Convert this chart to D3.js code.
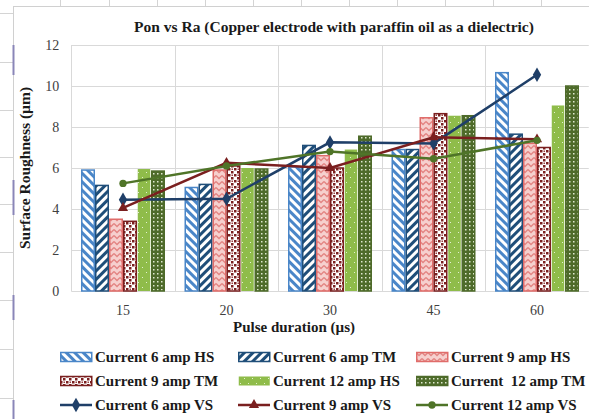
<!DOCTYPE html>
<html>
<head>
<meta charset="utf-8">
<script src="https://cdn.jsdelivr.net/npm/d3@7"></script>
<style>
  body { margin: 0; background: #ffffff; }
  svg text { font-family: 'Liberation Serif', 'Times New Roman', serif; }
</style>
</head>
<body>
<svg id="chart" width="589" height="419"></svg>
<script>
// chart data
let categories = ["15", "20", "30", "45", "60"];
let barSeries = ["Current 6 amp HS", "Current 6 amp TM", "Current 9 amp HS",
                 "Current 9 amp TM", "Current 12 amp HS", "Current  12 amp TM"];
let hs6 = [5.9, 5.05, 6.05, 6.9, 10.65];
let tm6 = [5.15, 5.2, 7.1, 6.9, 7.65];
let hs9 = [3.5, 5.9, 6.6, 8.45, 7.2];
let tm9 = [3.4, 6.1, 6.0, 8.65, 7.0];
let hs12 = [5.95, 6.0, 6.9, 8.55, 9.05];
let tm12 = [5.85, 5.95, 7.55, 8.55, 10.0];
let lineSeries = ["Current 6 amp VS", "Current 9 amp VS", "Current 12 amp VS"];
let vs6 = [4.45, 4.5, 7.25, 7.2, 10.55];
let vs9 = [4.05, 6.25, 6.0, 7.5, 7.4];
let vs12 = [5.25, 6.1, 6.8, 6.45, 7.35];
let yTicks = [0, 2, 4, 6, 8, 10, 12];

let barValues = [hs6, tm6, hs9, tm9, hs12, tm12];
let lineValues = [vs6, vs9, vs12];

let serif = "'Liberation Serif', 'Times New Roman', serif";

// styles for each series
let barStyle = [
    { fill: "url(#p6hs)", stroke: "#4a86c8" },
    { fill: "url(#p6tm)", stroke: "#1f4e79" },
    { fill: "url(#p9hs)", stroke: "#e06c6a" },
    { fill: "url(#p9tm)", stroke: "#7a1f1f" },
    { fill: "url(#p12hs)", stroke: "none" },
    { fill: "url(#p12tm)", stroke: "#4e6b2a" }
];
let lineStyle = [
    { color: "#1f3f68", marker: d3.symbolDiamond, size: 60 },
    { color: "#7a1f1f", marker: d3.symbolTriangle, size: 45 },
    { color: "#4f7428", marker: d3.symbolCircle, size: 42 }
];

let svg = d3.select("#chart");

// spreadsheet grid behind the chart box
let bg = svg.append("g").attr("stroke", "#d4d4d4").attr("stroke-width", 1);
[60, 109, 157, 205, 253, 301, 349, 397, 445, 493, 541].forEach(x => {
    bg.append("line").attr("x1", x + 0.5).attr("x2", x + 0.5).attr("y1", 0).attr("y2", 6);
});
[13, 62, 110, 157, 204, 252, 300, 349, 398].forEach(y => {
    bg.append("line").attr("x1", 0).attr("x2", 13).attr("y1", y + 0.5).attr("y2", y + 0.5);
});

// chart box
svg.append("rect")
    .attr("x", 13.5).attr("y", 6.5).attr("width", 580).attr("height", 420)
    .attr("fill", "#ffffff").attr("stroke", "#d0d0d0");
// selection marks on the left edge
[[45, 75], [180, 215], [295, 320], [400, 419]].forEach(s => {
    svg.append("line").attr("x1", 13.5).attr("x2", 13.5).attr("y1", s[0]).attr("y2", s[1])
        .attr("stroke", "#8a86b8").attr("stroke-width", 2);
});

// patterns
let defs = svg.append("defs");

function stripePattern(id, color, angle) {
    let p = defs.append("pattern").attr("id", id)
        .attr("patternUnits", "userSpaceOnUse").attr("width", 6).attr("height", 6)
        .attr("patternTransform", "rotate(" + angle + ")");
    p.append("rect").attr("width", 6).attr("height", 6).attr("fill", "#ffffff");
    p.append("rect").attr("width", 3).attr("height", 6).attr("fill", color);
}
stripePattern("p6hs", "#4a86c8", -45);
stripePattern("p6tm", "#1f4e79", 45);

let p9hs = defs.append("pattern").attr("id", "p9hs")
    .attr("patternUnits", "userSpaceOnUse").attr("width", 6).attr("height", 6);
p9hs.append("rect").attr("width", 6).attr("height", 6).attr("fill", "#f6d0ce");
p9hs.append("path").attr("d", "M0,1.5 L3,4.5 L6,1.5").attr("fill", "none")
    .attr("stroke", "#e38482").attr("stroke-width", 1.3);

let p9tm = defs.append("pattern").attr("id", "p9tm")
    .attr("patternUnits", "userSpaceOnUse").attr("width", 6).attr("height", 6);
p9tm.append("rect").attr("width", 6).attr("height", 6).attr("fill", "#ffffff");
p9tm.append("rect").attr("x", 0).attr("y", 0).attr("width", 2.5).attr("height", 2.5).attr("fill", "#7a1f1f");
p9tm.append("rect").attr("x", 3).attr("y", 3).attr("width", 2.5).attr("height", 2.5).attr("fill", "#7a1f1f");
p9tm.append("rect").attr("x", 3.5).attr("y", 0.5).attr("width", 1.5).attr("height", 1.5).attr("fill", "#9a4040");

let p12hs = defs.append("pattern").attr("id", "p12hs")
    .attr("patternUnits", "userSpaceOnUse").attr("width", 8).attr("height", 10);
p12hs.append("rect").attr("width", 8).attr("height", 10).attr("fill", "#8fbc4a");
p12hs.append("rect").attr("x", 2).attr("y", 2).attr("width", 1).attr("height", 1).attr("fill", "#e4f0d2");
p12hs.append("rect").attr("x", 6).attr("y", 7).attr("width", 1).attr("height", 1).attr("fill", "#e4f0d2");

let p12tm = defs.append("pattern").attr("id", "p12tm")
    .attr("patternUnits", "userSpaceOnUse").attr("width", 4).attr("height", 4);
p12tm.append("rect").attr("width", 4).attr("height", 4).attr("fill", "#4e6b2a");
p12tm.append("rect").attr("x", 1).attr("y", 1).attr("width", 1.5).attr("height", 1.5).attr("fill", "#dfe8cf");

// scales
let plotLeft = 71.25, plotRight = 588.75, plotTop = 45, plotBottom = 291;
let x0 = d3.scaleBand().domain(categories).range([plotLeft, plotRight]).padding(0);
let x1 = d3.scaleBand().domain(barSeries)
    .range([9.75, x0.bandwidth() - 9.75]).padding(0);
let y = d3.scaleLinear().domain([0, 12]).range([plotBottom, plotTop]);

// gridlines
let grid = svg.append("g").attr("stroke", "#d9d9d9").attr("stroke-width", 1);
yTicks.forEach(t => {
    grid.append("line").attr("x1", plotLeft).attr("x2", plotRight)
        .attr("y1", Math.round(y(t)) + 0.5).attr("y2", Math.round(y(t)) + 0.5);
});
categories.concat(["end"]).forEach((c, i) => {
    let gx = Math.round(plotLeft + i * x0.bandwidth()) + 0.5;
    grid.append("line").attr("x1", gx).attr("x2", gx).attr("y1", plotTop).attr("y2", plotBottom);
});

// y axis labels
let yAxis = svg.append("g")
    .attr("transform", "translate(" + (plotLeft - 12) + ",0)")
    .call(d3.axisLeft(y).tickValues(yTicks).tickSize(0).tickPadding(0));
yAxis.attr("font-family", serif);
yAxis.select(".domain").remove();
yAxis.selectAll("text").style("font-family", serif).attr("font-size", 14).attr("fill", "#404040");

// x axis labels
let xAxis = svg.append("g")
    .attr("transform", "translate(0," + (plotBottom + 14) + ")")
    .call(d3.axisBottom(x0).tickSize(0).tickPadding(0));
xAxis.attr("font-family", serif);
xAxis.select(".domain").remove();
xAxis.selectAll("text").style("font-family", serif).attr("font-size", 14).attr("fill", "#404040");

// bars
barValues.forEach((vals, si) => {
    svg.append("g").selectAll("rect")
        .data(vals)
        .enter().append("rect")
            .attr("x", (d, i) => x0(categories[i]) + x1(barSeries[si]) + 0.75)
            .attr("y", d => y(d))
            .attr("width", x1.bandwidth() - 1.5)
            .attr("height", d => plotBottom - y(d))
            .attr("fill", barStyle[si].fill)
            .attr("stroke", barStyle[si].stroke)
            .attr("stroke-width", 1.5);
});

// lines with markers
let lineGen = d3.line()
    .x((d, i) => x0(categories[i]) + x0.bandwidth() / 2)
    .y(d => y(d));
lineValues.forEach((vals, si) => {
    let st = lineStyle[si];
    svg.append("path").datum(vals)
        .attr("d", lineGen)
        .attr("fill", "none")
        .attr("stroke", st.color)
        .attr("stroke-width", 2.5);
    svg.append("g").selectAll("path")
        .data(vals)
        .enter().append("path")
            .attr("transform", (d, i) => "translate(" + (x0(categories[i]) + x0.bandwidth() / 2) + "," + y(d) + ")")
            .attr("d", d3.symbol().type(st.marker).size(st.size))
            .attr("fill", st.color);
});

// titles
svg.append("text")
    .attr("x", 334).attr("y", 32)
    .attr("text-anchor", "middle")
    .style("font-family", serif)
    .attr("font-size", 15.5).attr("font-weight", "bold").attr("fill", "#1a1a1a")
    .text("Pon vs Ra (Copper electrode with paraffin oil as a dielectric)");

svg.append("text")
    .attr("x", 294).attr("y", 332)
    .attr("text-anchor", "middle")
    .style("font-family", serif)
    .attr("font-size", 15).attr("font-weight", "bold").attr("fill", "#1a1a1a")
    .text("Pulse duration (\u00b5s)");

svg.append("text")
    .attr("transform", "translate(30,168) rotate(-90)")
    .attr("text-anchor", "middle")
    .style("font-family", serif)
    .attr("font-size", 15.5).attr("font-weight", "bold").attr("fill", "#1a1a1a")
    .text("Surface Roughness (\u00b5m)");

// legend
let legendItems = barSeries.map((name, i) => ({ name: name, kind: "bar", idx: i }))
    .concat(lineSeries.map((name, i) => ({ name: name, kind: "line", idx: i })));
let legendCols = [60, 238, 416];
let legendRows = [357, 381, 405];

let legend = svg.append("g");
legendItems.forEach((item, k) => {
    let lx = legendCols[k % 3];
    let ly = legendRows[Math.floor(k / 3)];
    let g = legend.append("g").attr("transform", "translate(" + lx + "," + ly + ")");
    if (item.kind === "bar") {
        let st = barStyle[item.idx];
        g.append("rect")
            .attr("x", 0.75).attr("y", -4.5).attr("width", 31).attr("height", 9)
            .attr("fill", st.fill)
            .attr("stroke", st.stroke)
            .attr("stroke-width", 1.5);
    } else {
        let st = lineStyle[item.idx];
        g.append("line").attr("x1", 0).attr("x2", 32).attr("y1", 0).attr("y2", 0)
            .attr("stroke", st.color).attr("stroke-width", 2.5);
        g.append("path").attr("transform", "translate(16,0)")
            .attr("d", d3.symbol().type(st.marker).size(st.size))
            .attr("fill", st.color);
    }
    g.append("text")
        .attr("x", 35).attr("y", 5)
        .style("font-family", serif)
        .attr("font-size", 15).attr("font-weight", "bold").attr("fill", "#1a1a1a")
        .style("white-space", "pre")
        .text(item.name);
});
</script>
</body>
</html>
